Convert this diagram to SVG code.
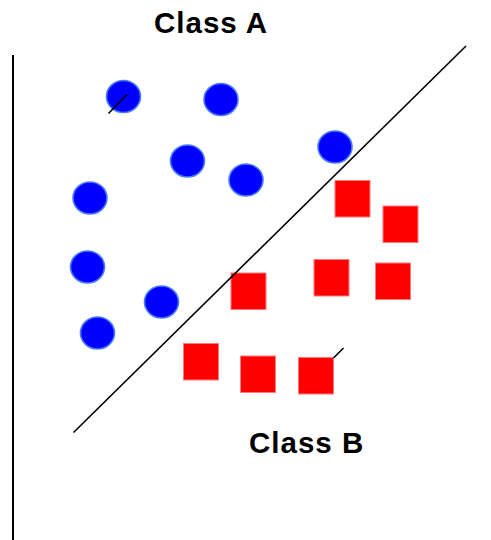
<svg xmlns="http://www.w3.org/2000/svg" width="491" height="540" viewBox="0 0 491 540">
<style>
.a{fill:#0000ff;stroke:#4a7cf2;stroke-width:1.6}
.b{fill:#ff0000;stroke:#ff7b7b;stroke-width:1}
.l{stroke:#000;stroke-width:1.6;fill:none}
.t{font-family:"Liberation Sans",Arial,sans-serif;font-weight:bold;font-size:29.5px;letter-spacing:1px;fill:#000}
</style>
<rect width="491" height="540" fill="#fff"/>
<g id="axis"><line class="l" x1="13" y1="55" x2="13" y2="540" style="stroke-width:2"/></g>
<g id="classA">
<ellipse class="a" cx="123.5" cy="96.5" rx="17" ry="16"/>
<ellipse class="a" cx="221" cy="99.5" rx="17" ry="16"/>
<ellipse class="a" cx="187.5" cy="161" rx="17" ry="16"/>
<ellipse class="a" cx="246" cy="180" rx="17" ry="16"/>
<ellipse class="a" cx="90" cy="198" rx="17" ry="16"/>
<ellipse class="a" cx="335" cy="147" rx="17" ry="16"/>
<ellipse class="a" cx="87.5" cy="267" rx="17" ry="16"/>
<ellipse class="a" cx="161.5" cy="302" rx="17" ry="16"/>
<ellipse class="a" cx="97.5" cy="333" rx="17" ry="16"/>
</g>
<g id="classB">
<rect class="b" x="335" y="180.5" width="35" height="36.5"/>
<rect class="b" x="383" y="206" width="35" height="36.5"/>
<rect class="b" x="231" y="273" width="35" height="36.5"/>
<rect class="b" x="314" y="259.5" width="35" height="36.5"/>
<rect class="b" x="375.5" y="263" width="35" height="36.5"/>
<rect class="b" x="183.5" y="343.5" width="35" height="36.5"/>
<rect class="b" x="240.5" y="356" width="35" height="36.5"/>
<rect class="b" x="298.5" y="357.5" width="35" height="36.5"/>
</g>
<g id="connectors">
<line class="l" x1="73.5" y1="432.5" x2="466" y2="46"/>
<line class="l" x1="108.5" y1="113.5" x2="127" y2="94.5"/>
<line class="l" x1="333.5" y1="358" x2="343.5" y2="348"/>
</g>
<g id="labels">
<text class="t" x="154" y="33">Class A</text>
<text class="t" x="249" y="453">Class B</text>
</g>
</svg>
